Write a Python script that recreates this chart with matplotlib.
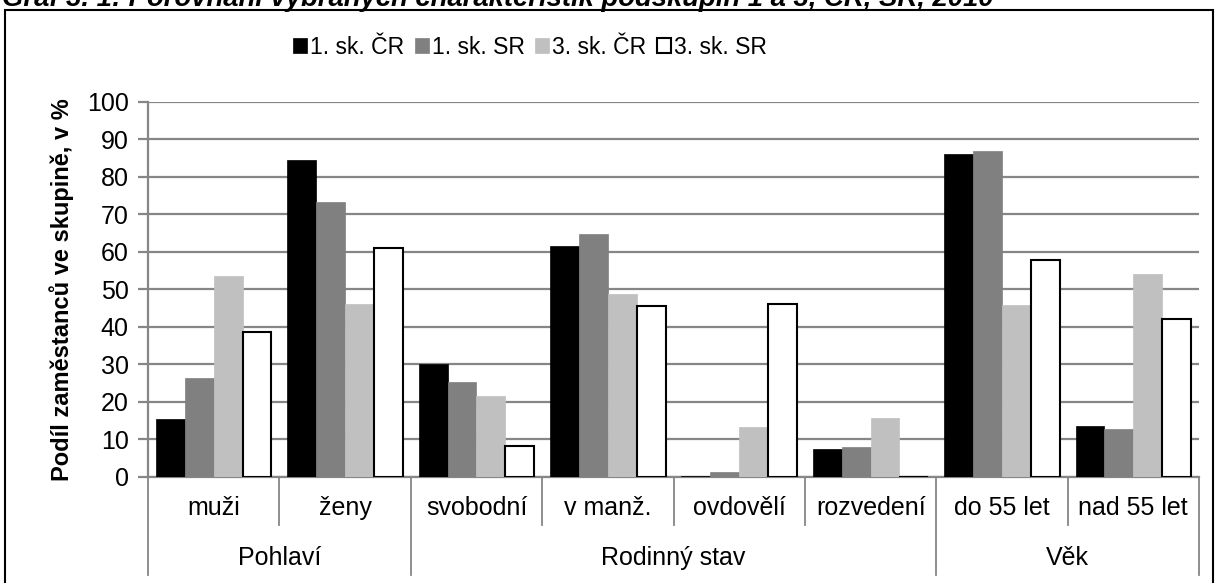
import numpy as np
import matplotlib
matplotlib.use("Agg")
import matplotlib.pyplot as plt
from matplotlib.patches import Rectangle

plt.rcParams['font.family'] = ['Liberation Sans', 'DejaVu Sans']

categories = ['muži', 'ženy', 'svobodní', 'v manž.', 'ovdovělí', 'rozvedení', 'do 55 let', 'nad 55 let']
groups = ['Pohlaví', 'Rodinný stav', 'Věk']
group_sizes = [2, 4, 2]
series_names = ['1. sk. ČR', '1. sk. SR', '3. sk. ČR', '3. sk. SR']

cz1 = [15.5, 84.4, 30.1, 61.5, 0.3, 7.5, 86.0, 13.7]
sr1 = [26.5, 73.3, 25.3, 64.7, 1.3, 8.1, 86.9, 12.8]
cz3 = [53.6, 46.0, 21.7, 48.7, 13.3, 15.7, 45.7, 54.1]
sr3 = [38.7, 61.1, 8.3, 45.6, 46.1, 0.0, 57.8, 42.0]

title = 'Graf 3. 1: Porovnání vybraných charakteristik podskupin 1 a 3, ČR, SR, 2010'
ylabel = 'Podíl zaměstanců ve skupině, v %'

W, H = 1218, 583
fig = plt.figure(figsize=(W / 100, H / 100), dpi=100)
ax = fig.add_axes([148 / W, 1 - 477 / H, (1199 - 148) / W, (477 - 101.7) / H])

grid_col = '#868686'
x = np.arange(len(categories))
bw = 0.22
colors = ['#000000', '#808080', '#c0c0c0', '#ffffff']
edges = ['#000000', '#808080', '#c0c0c0', '#000000']
for i, (vals, c, ec, name) in enumerate(zip([cz1, sr1, cz3, sr3], colors, edges, series_names)):
    ax.bar(x + (i - 1.5) * bw, vals, bw, color=c, edgecolor=ec, linewidth=1.5 if i == 3 else 0.5,
           label=name, zorder=3)

ax.set_xlim(-0.5, len(categories) - 0.5)
ax.set_ylim(0, 100)
ax.set_yticks(np.arange(0, 101, 10))
ax.yaxis.grid(True, color=grid_col, linewidth=1.6, zorder=0)
ax.set_axisbelow(True)
for s in ['top', 'right']:
    ax.spines[s].set_visible(False)
ax.spines['left'].set_color(grid_col)
ax.spines['bottom'].set_color(grid_col)
ax.spines['left'].set_linewidth(1.6)
ax.spines['bottom'].set_linewidth(1.6)
ax.tick_params(axis='y', direction='out', length=7, width=1.6, color=grid_col, labelsize=18, pad=7)
ax.set_xticks([])
ax.set_ylabel(ylabel, fontsize=17, fontweight='bold', labelpad=9)

# multi-level category axis
tr = ax.get_xaxis_transform()
px = 1 / (477 - 101.7)
for i, cat in enumerate(categories):
    ax.text(i, -31 * px, cat, transform=tr, ha='center', va='center', fontsize=18)
bounds = np.cumsum([0] + group_sizes) - 0.5
for b in np.arange(len(categories) + 1) - 0.5:
    long = np.any(np.isclose(bounds, b))
    ax.plot([b, b], [0, -(98 if long else 48) * px], transform=tr, color=grid_col,
            linewidth=1.3, clip_on=False)
for g, lo, hi in zip(groups, bounds[:-1], bounds[1:]):
    ax.text((lo + hi) / 2, -81 * px, g, transform=tr, ha='center', va='center', fontsize=18)

leg = fig.legend(loc='center', bbox_to_anchor=(530 / W, 1 - 47 / H), ncol=4, frameon=False,
                 fontsize=16.5, handlelength=0.6, handleheight=0.6, handletextpad=0.15,
                 columnspacing=0.45, borderaxespad=0)

# outer frame and clipped title
fig.patches.append(Rectangle((5 / W, -0.02), (1213 - 5) / W, 1 - 10 / H + 0.02,
                             transform=fig.transFigure, fill=False, edgecolor='black', linewidth=1.5))
fig.text(2 / W, 1 - 6 / H, title, fontsize=19.8, fontweight='bold', fontstyle='italic',
         ha='left', va='baseline')

fig.savefig('out.png', dpi=100)
